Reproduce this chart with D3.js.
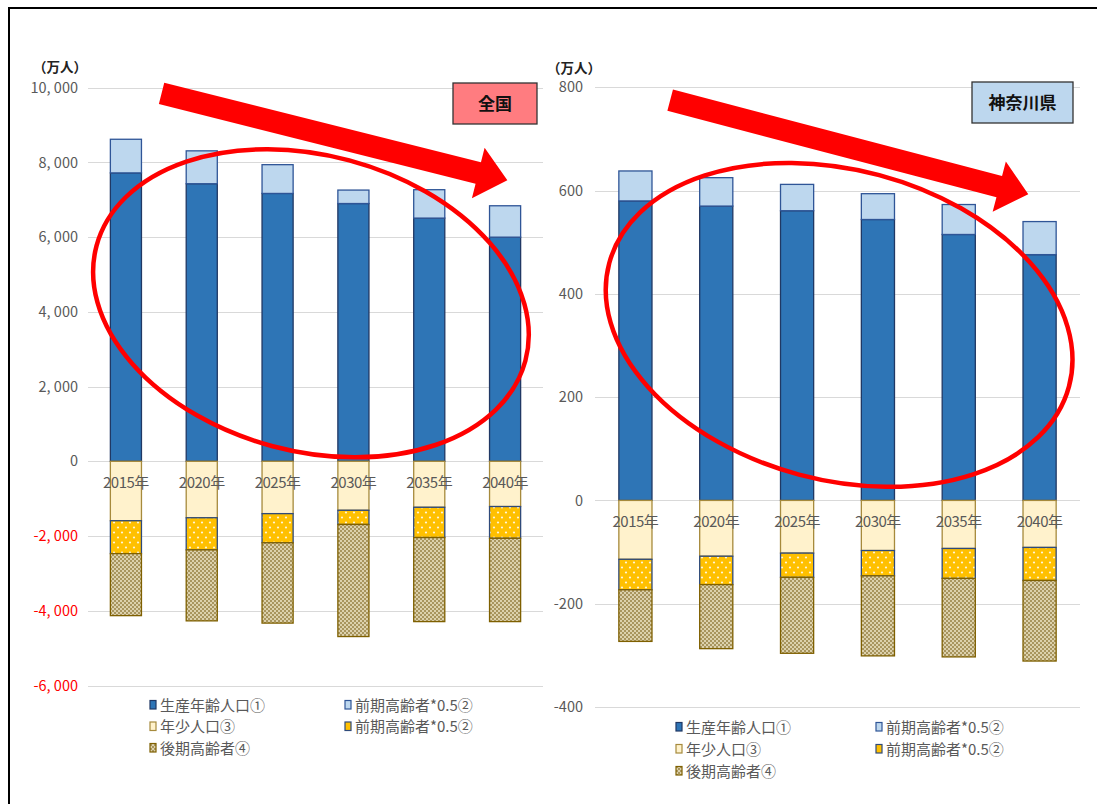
<!DOCTYPE html>
<html>
<head>
<meta charset="utf-8">
<script src="https://cdn.jsdelivr.net/npm/d3@7"></script>
<style>
  html, body { margin: 0; padding: 0; background: #fff; }
  svg { display: block; font-family: "Noto Sans CJK JP", "Noto Sans", sans-serif; }
</style>
</head>
<body>
<svg id="chart" width="1097" height="804"></svg>
<script>
// 年次
const years = ["2015年", "2020年", "2025年", "2030年", "2035年", "2040年"];

// 全国（万人）
const natWorking   = [7720, 7430, 7170, 6900, 6510, 6000];   // 生産年齢人口①
const natEarlyUp   = [900, 880, 770, 360, 760, 840];         // 前期高齢者*0.5②（上側）
const natYouth     = [1590, 1510, 1400, 1310, 1230, 1210];   // 年少人口③
const natEarlyDown = [880, 860, 780, 380, 810, 850];         // 前期高齢者*0.5②（下側）
const natLate      = [1660, 1900, 2150, 3000, 2250, 2230];   // 後期高齢者④
const natTicks     = [10000, 8000, 6000, 4000, 2000, 0, -2000, -4000, -6000];

// 神奈川県（万人）
const kanaWorking   = [580, 570, 561, 544, 515, 476];
const kanaEarlyUp   = [58, 55, 51, 50, 58, 64];
const kanaYouth     = [114, 108, 102, 97, 93, 91];
const kanaEarlyDown = [59, 55, 47, 49, 58, 64];
const kanaLate      = [100, 124, 147, 155, 152, 156];
const kanaTicks     = [800, 600, 400, 200, 0, -200, -400];

const legendLabels = ["生産年齢人口①", "前期高齢者*0.5②", "年少人口③", "前期高齢者*0.5②", "後期高齢者④"];

const svg = d3.select("#chart");
svg.append("rect").attr("width", 1097).attr("height", 804).attr("fill", "#fff");

// patterns
const defs = svg.append("defs");
const dots = defs.append("pattern").attr("id", "dots").attr("patternUnits", "userSpaceOnUse")
  .attr("width", 8).attr("height", 10);
dots.append("rect").attr("width", 8).attr("height", 10).attr("fill", "#FFC000");
dots.append("circle").attr("cx", 2).attr("cy", 2.5).attr("r", 1.1).attr("fill", "#FFF6D8");
dots.append("circle").attr("cx", 6).attr("cy", 7.5).attr("r", 1.1).attr("fill", "#FFF6D8");

const check = defs.append("pattern").attr("id", "check").attr("patternUnits", "userSpaceOnUse")
  .attr("width", 4).attr("height", 4);
check.append("rect").attr("width", 4).attr("height", 4).attr("fill", "#A8955E");
check.append("rect").attr("x", 0).attr("y", 0).attr("width", 2).attr("height", 2).attr("fill", "#DCD1AC");
check.append("rect").attr("x", 2).attr("y", 2).attr("width", 2).attr("height", 2).attr("fill", "#DCD1AC");

// series styles (stack order: up from 0, then down from 0)
const styles = {
  working:   { fill: "#2E75B6", stroke: "#203864" },
  earlyUp:   { fill: "#BDD7EE", stroke: "#2F5597" },
  youth:     { fill: "#FFF2CC", stroke: "#A68A3C" },
  earlyDown: { fill: "url(#dots)", stroke: "#2F4A7A" },
  late:      { fill: "url(#check)", stroke: "#7F6000" }
};
const legendStyles = [
  { fill: "#2E75B6", stroke: "#203864" },
  { fill: "#BDD7EE", stroke: "#2F5597" },
  { fill: "#FFF2CC", stroke: "#A68A3C" },
  { fill: "#FFC000", stroke: "#2F4A7A" },
  { fill: "url(#check)", stroke: "#7F6000" }
];

// outer frame
svg.append("path").attr("d", "M9,804 V8 H1097").attr("fill", "none")
  .attr("stroke", "#000").attr("stroke-width", 2);

function drawPanel(cfg) {
  const x = d3.scaleBand().domain(years).range(cfg.xRange).paddingInner(0.59).paddingOuter(0.295);
  const y = d3.scaleLinear().domain([cfg.ticks[cfg.ticks.length - 1], cfg.ticks[0]]).range(cfg.yRange);
  const step = x.step();
  const xAt = t => cfg.xRange[0] + step * (t + 0.5);
  const g = svg.append("g");

  // gridlines
  g.append("g").selectAll("line").data(cfg.ticks).join("line")
    .attr("x1", cfg.xRange[0]).attr("x2", cfg.xRange[1])
    .attr("y1", d => Math.round(y(d)) + 0.5).attr("y2", d => Math.round(y(d)) + 0.5)
    .attr("stroke", "#D9D9D9").attr("stroke-width", 1);

  // y axis labels
  const yAxis = d3.axisLeft(y).tickValues(cfg.ticks).tickSize(0).tickPadding(0)
    .tickFormat(d => d3.format(",")(d).replace(/,/g, ", ").replace("−", "-"));
  const ax = g.append("g").attr("transform", `translate(${cfg.tickX},0)`).call(yAxis);
  ax.select(".domain").remove();
  ax.selectAll("text").attr("font-size", 14.5)
    .attr("font-family", "'Noto Sans CJK JP', sans-serif")
    .attr("xml:space", "preserve").style("white-space", "pre")
    .attr("fill", d => (d < 0 && cfg.redNegatives) ? "#FF0000" : "#595959");

  // unit label
  g.append("text").attr("x", cfg.unitX).attr("y", cfg.unitY).attr("font-size", 13.5)
    .attr("font-weight", "bold").attr("fill", "#222").text("（万人）");

  // stacked bars
  const rows = years.map((yr, i) => {
    const w = cfg.working[i], eu = cfg.earlyUp[i], yo = cfg.youth[i], ed = cfg.earlyDown[i], la = cfg.late[i];
    return [
      { yr, key: "working", y0: 0, y1: w },
      { yr, key: "earlyUp", y0: w, y1: w + eu },
      { yr, key: "youth", y0: 0, y1: -yo },
      { yr, key: "earlyDown", y0: -yo, y1: -yo - ed },
      { yr, key: "late", y0: -yo - ed, y1: -yo - ed - la }
    ];
  }).flat();

  g.append("g").selectAll("rect").data(rows).join("rect")
    .attr("x", d => x(d.yr))
    .attr("width", x.bandwidth())
    .attr("y", d => y(Math.max(d.y0, d.y1)))
    .attr("height", d => Math.abs(y(d.y0) - y(d.y1)))
    .attr("fill", d => styles[d.key].fill)
    .attr("stroke", d => styles[d.key].stroke)
    .attr("stroke-width", 1.3);

  // year labels inside the bars just below zero
  g.append("g").selectAll("text").data(years).join("text")
    .attr("x", d => x(d) + x.bandwidth() / 2)
    .attr("y", y(0) + cfg.yearDy)
    .attr("text-anchor", "middle").attr("font-size", 15).attr("fill", "#595959")
    .attr("letter-spacing", -0.5)
    .text(d => d);

  // region label
  const lb = g.append("g");
  lb.append("rect").attr("x", cfg.label.x).attr("y", cfg.label.y)
    .attr("width", cfg.label.w).attr("height", cfg.label.h)
    .attr("fill", cfg.label.fill).attr("stroke", "#333").attr("stroke-width", 1.3);
  lb.append("text").attr("x", cfg.label.x + cfg.label.w / 2).attr("y", cfg.label.y + cfg.label.h / 2 + 6)
    .attr("text-anchor", "middle").attr("font-size", 17).attr("font-weight", "bold").attr("fill", "#111")
    .text(cfg.label.text);

  // trend arrow
  const a = cfg.arrow;
  const x1 = xAt(a.t1), y1 = y(a.v1), x2 = xAt(a.t2), y2 = y(a.v2);
  const len = Math.hypot(x2 - x1, y2 - y1);
  const ux = (x2 - x1) / len, uy = (y2 - y1) / len, nx = -uy, ny = ux;
  const sh = 11, hw = 26, hl = 30;
  const bx = x2 - ux * hl, by = y2 - uy * hl;
  const pts = [
    [x1 + nx * sh, y1 + ny * sh], [bx + nx * sh, by + ny * sh], [bx + nx * hw, by + ny * hw],
    [x2, y2],
    [bx - nx * hw, by - ny * hw], [bx - nx * sh, by - ny * sh], [x1 - nx * sh, y1 - ny * sh]
  ];
  g.append("polygon").attr("points", pts.map(p => p.join(",")).join(" ")).attr("fill", "#FF0000");

  // trend ellipse
  const e = cfg.ellipse;
  g.append("ellipse").attr("cx", 0).attr("cy", 0).attr("rx", e.rx).attr("ry", e.ry)
    .attr("transform", `translate(${xAt(e.t)},${y(e.v)}) rotate(${e.rot})`)
    .attr("fill", "none").attr("stroke", "#FF0000").attr("stroke-width", 4.5);

  // legend
  const lg = g.append("g");
  legendLabels.forEach((txt, i) => {
    const col = i % 2, row = Math.floor(i / 2);
    const lx = cfg.legend.x + col * cfg.legend.colW;
    const ly = cfg.legend.y + row * cfg.legend.rowH;
    lg.append("rect").attr("x", lx).attr("y", ly - 4.5).attr("width", 6).attr("height", 8.5)
      .attr("fill", legendStyles[i].fill).attr("stroke", legendStyles[i].stroke).attr("stroke-width", 1.2);
    lg.append("text").attr("x", lx + 10).attr("y", ly + 5.5).attr("font-size", 15).attr("fill", "#595959")
      .text(txt);
  });
}

drawPanel({
  xRange: [88, 543], yRange: [685.5, 87.7], ticks: natTicks,
  working: natWorking, earlyUp: natEarlyUp, youth: natYouth, earlyDown: natEarlyDown, late: natLate,
  tickX: 78, unitX: 33, unitY: 72, redNegatives: true, yearDy: 27,
  label: { x: 453, y: 83, w: 84, h: 41, fill: "#FF7C80", text: "全国" },
  arrow: { t1: 0.47, v1: 9850, t2: 5.03, v2: 7520 },
  ellipse: { t: 2.44, v: 4230, rx: 222, ry: 148, rot: 15 },
  legend: { x: 150, y: 705, colW: 195, rowH: 21.5 }
});

drawPanel({
  xRange: [595, 1080], yRange: [707, 87.3], ticks: kanaTicks,
  working: kanaWorking, earlyUp: kanaEarlyUp, youth: kanaYouth, earlyDown: kanaEarlyDown, late: kanaLate,
  tickX: 583, unitX: 547, unitY: 73, redNegatives: false, yearDy: 27,
  label: { x: 972, y: 82, w: 101, h: 41, fill: "#BDD7EE", text: "神奈川県" },
  arrow: { t1: 0.43, v1: 775, t2: 4.86, v2: 593 },
  ellipse: { t: 2.52, v: 340, rx: 238, ry: 155, rot: 15 },
  legend: { x: 676, y: 727, colW: 200, rowH: 22 }
});
</script>
</body>
</html>
